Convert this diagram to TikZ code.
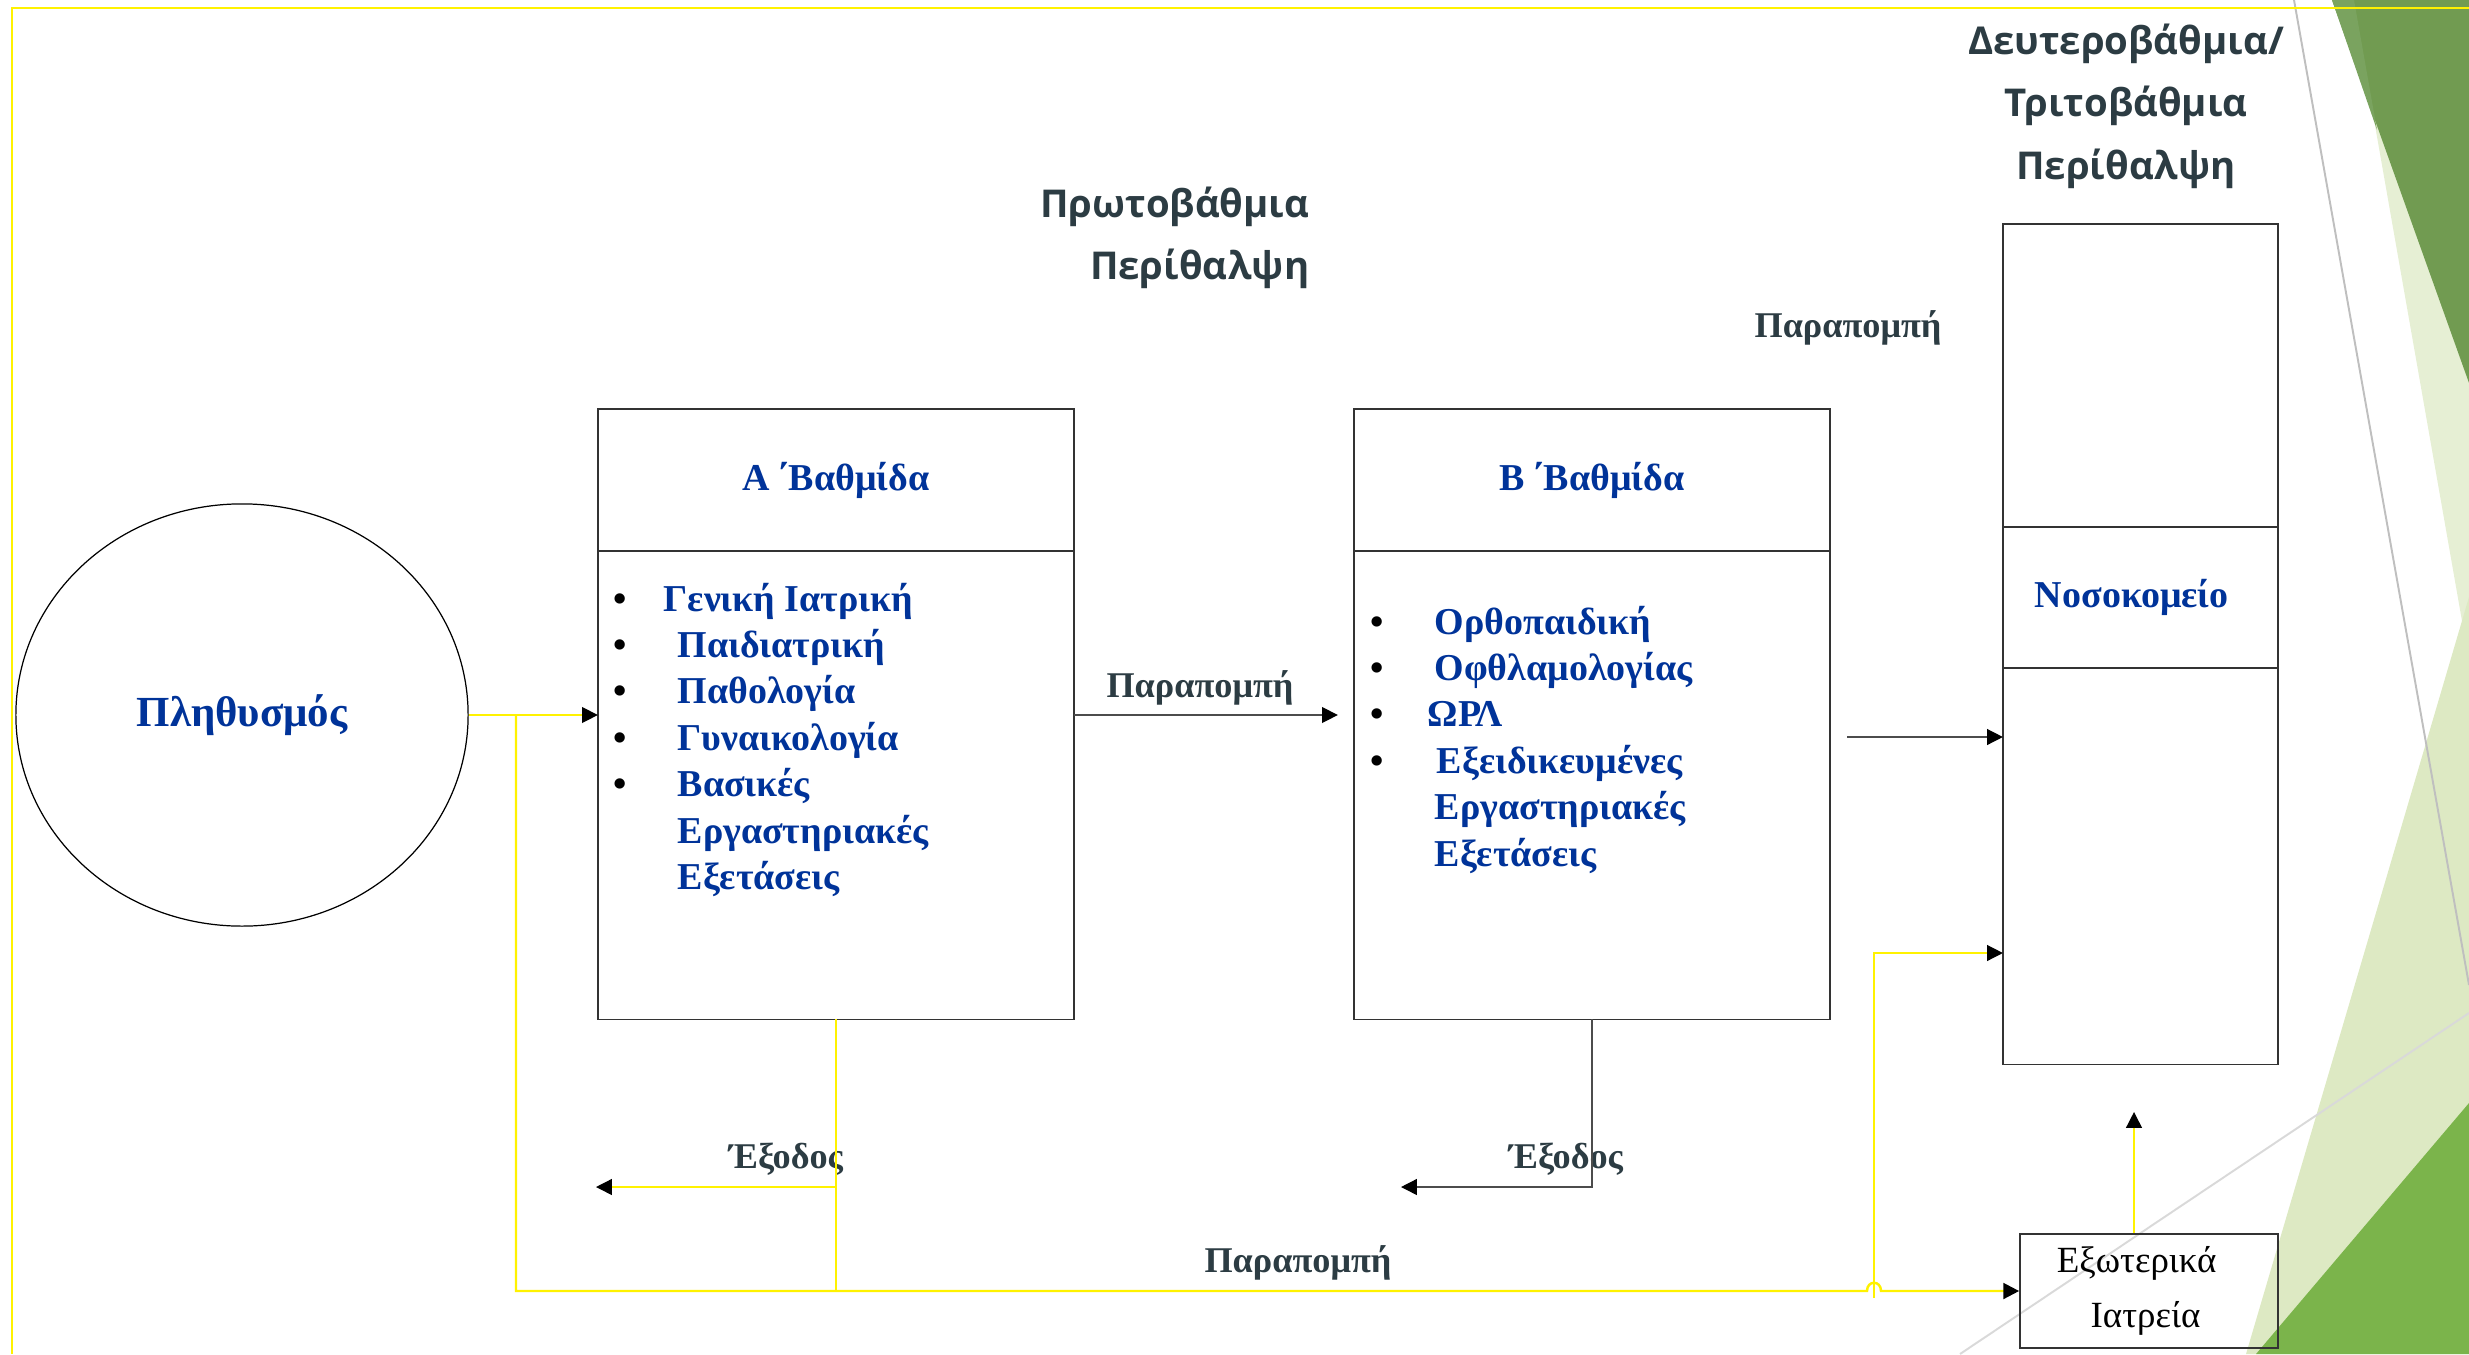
\documentclass[tikz,border=0pt]{standalone}
\usepackage{fontspec}
\setmainfont{Liberation Serif}
\newfontfamily\titlefont{Open Sans}
\usetikzlibrary{shapes,arrows,arrows.meta,positioning,calc}
\definecolor{tierblue}{HTML}{003399}
\definecolor{slate}{HTML}{2C3C43}
\definecolor{leafdark}{HTML}{719B51}
\definecolor{leafstrip}{HTML}{7AA35F}
\definecolor{leafpale}{HTML}{E6EFD4}
\definecolor{leaflight}{HTML}{DDE9C3}
\definecolor{leafmid}{HTML}{7BB44B}
\newcommand{\bul}[1][18.2pt]{\makebox[#1][l]{\textcolor{black}{•}}}
\newcommand{\itemgap}[1][18.2pt]{\hspace*{#1}}

\begin{document}
\begin{tikzpicture}[x=0.01cm, y=-0.01cm,
    tiertext/.style = {font=\fontsize{10.8}{13.2}\selectfont\bfseries, text=tierblue},
    headbox/.style = {rectangle, draw=black!80, line width=0.45pt, outer sep=0pt, inner sep=0pt, minimum width=4.76cm, minimum height=1.42cm, tiertext},
    listbox/.style = {rectangle, draw=black!80, line width=0.45pt, outer sep=0pt, inner sep=0pt, minimum width=4.76cm, minimum height=4.68cm},
    hospbox/.style = {rectangle, draw=black!80, line width=0.45pt, outer sep=0pt, inner sep=0pt, minimum width=2.75cm, tiertext},
    itemlist/.style = {inner sep=0pt, anchor=base west, tiertext},
    popnode/.style = {ellipse, draw, line width=0.35pt, minimum width=4.52cm, minimum height=4.22cm, text=tierblue, font=\fontsize{12.2}{14}\selectfont\bfseries},
    outbox/.style = {rectangle, draw=black!80, line width=0.45pt, inner sep=0pt, minimum width=2.58cm, minimum height=1.14cm, align=center, font=\fontsize{10.5}{15.6}\selectfont},
    caretitle/.style = {inner sep=0pt, text=slate, font=\titlefont\bfseries\fontsize{10.9}{17.9}\selectfont},
    flowlabel/.style = {inner sep=0pt, anchor=base, text=slate, font=\fontsize{10.3}{12}\selectfont\bfseries},
    yelline/.style = {draw=yellow, line width=0.4pt},
    greyline/.style = {draw=black!70, line width=0.4pt},
    blackhead/.style = {-{Triangle[color=black, length=4.5pt, width=4.5pt]}},
    ]
        \useasboundingbox (0,0) rectangle (2469,1354);

        % Background
        \fill[leafpale] (2353,0) -- (2469,0) -- (2469,661) -- cycle;
        \fill[leafdark] (2332,0) -- (2469,0) -- (2469,383) -- cycle;
        \fill[leafstrip] (2332,0) -- (2354,0) -- (2377,130) -- cycle;
        \fill[leaflight] (2246,1354) -- (2469,1354) -- (2469,597) -- cycle;
        \fill[leafmid] (2256,1354) -- (2469,1354) -- (2469,1103) -- cycle;
        \draw[black!25, line width=0.55pt] (2294,0) -- (2469,985);
        \draw[black!15, line width=0.55pt] (1960,1354) -- (2469,1013);
        \draw[yellow, line width=0.55pt] (12,1354) -- (12,8) -- (2469,8);

        % Nodes
        \node[popnode] (pop) at (242,715) {Πληθυσμός};
        %
        \node[headbox] (headA) at (836,480) {Α\,΄Βαθμίδα};
        \node[listbox, below=0pt of headA] (listA) {};
        \node[itemlist] (itemsA) at (613,611) {\begin{tabular}[t]{@{}l@{}}
            \bul[14.2pt]Γενική Ιατρική\\
            \bul Παιδιατρική\\
            \bul Παθολογία\\
            \bul Γυναικολογία\\
            \bul Βασικές\\
            \itemgap Εργαστηριακές\\
            \itemgap Εξετάσεις
        \end{tabular}};
        %
        \node[headbox] (headB) at (1592,480) {Β\,΄Βαθμίδα};
        \node[listbox, below=0pt of headB] (listB) {};
        \node[itemlist] (itemsB) at (1370,634) {\begin{tabular}[t]{@{}l@{}}
            \bul Ορθοπαιδική\\
            \bul Οφθλαμολογίας\\
            \bul[16.2pt]ΩΡΛ\\
            \bul[18.8pt]Εξειδικευμένες\\
            \itemgap Εργαστηριακές\\
            \itemgap Εξετάσεις
        \end{tabular}};
        %
        \node[hospbox, minimum height=3.03cm] (hosptop) at (2140.5,375.5) {};
        \node[hospbox, minimum height=1.41cm, below=0pt of hosptop] (hospmid) {Νοσοκομείο\hspace*{5pt}};
        \node[hospbox, minimum height=3.96cm, below=0pt of hospmid] (hospbot) {};
        \node[outbox] (ext) at (2149,1291) {Εξωτερικά\hspace*{7pt}\\Ιατρεία\hspace*{2pt}};
        %
        \node[caretitle, anchor=base east] (primary) at (1310,217) {\begin{tabular}[t]{@{}r@{}}Πρωτοβάθμια\\Περίθαλψη\end{tabular}};
        \node[caretitle, anchor=base] (secondary) at (2126,54) {\begin{tabular}[t]{@{}c@{}}Δευτεροβάθμια/\\Τριτοβάθμια\\Περίθαλψη\end{tabular}};
        %
        \node[flowlabel] (refTop) at (1848,337) {Παραπομπή};
        \node[flowlabel] (refMid) at (1200,697) {Παραπομπή};
        \node[flowlabel] (refLow) at (1298,1272) {Παραπομπή};
        \node[flowlabel] (exitLblA) at (786,1168) {Έξοδος};
        \node[flowlabel] (exitLblB) at (1566,1168) {Έξοδος};
        %
        \coordinate (split) at (516,715);
        \coordinate (hopL) at (1867,1291);
        \coordinate (hopR) at (1881,1291);
        \coordinate (riseFoot) at (1874,1298);
        \coordinate (riseTop) at (1874,953);
        \coordinate (hospIn) at (1847,737);
        \coordinate (exitA) at (596,1187);
        \coordinate (exitB) at (1401,1187);
        \coordinate (upTip) at (2134,1112);

        % Draw
        \draw[yelline, blackhead] (pop.east) -- (listA.west |- pop.east);
        \draw[greyline, blackhead, shorten >=0.16cm] (listA.east |- pop.east) -- (listB.west |- pop.east);
        \draw[greyline, blackhead] (hospIn) -- (hospIn -| hospbot.west);
        \draw[yelline, blackhead] (riseFoot) |- (riseTop -| hospbot.west);
        \draw[yelline, line width=0.7pt, blackhead] (split) |- (hopL) .. controls +(0,-11) and +(0,-11) .. (hopR) -- (ext.west);
        \draw[yelline] (listA.south) -- (listA.south |- hopL);
        \draw[yelline, blackhead] (listA.south |- exitA) -- (exitA);
        \draw[greyline, blackhead] (listB.south) |- (exitB);
        \draw[yelline, blackhead] (upTip |- ext.north) -- (upTip);
    \end{tikzpicture}
\end{document}
